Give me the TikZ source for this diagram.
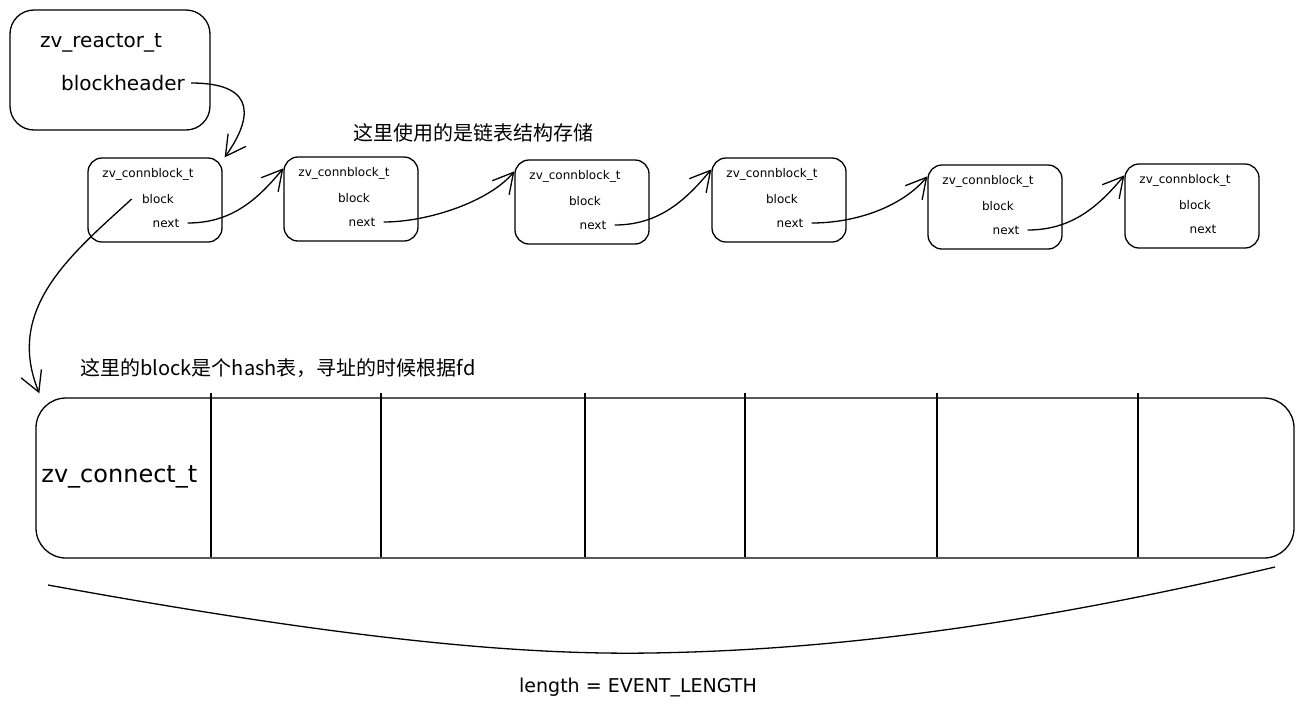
\documentclass[tikz,border=0pt]{standalone}
\usepackage{fontspec}
\setmainfont{DejaVu Sans}
\newfontfamily\cjk{Noto Sans CJK SC}
\usetikzlibrary{positioning, arrows.meta}

\tikzset{
  sketch/.style={draw, line width=0.65pt, rounded corners=#1},
  field/.style={inner sep=1pt, font=\fontsize{6}{7}\selectfont},
  title/.style={inner sep=1pt, font=\fontsize{10}{12}\selectfont},
  note/.style={inner sep=1pt, font=\cjk\fontsize{10}{12}\selectfont},
  link/.style={line width=0.65pt, -{Straight Barb[length=10pt, width=11pt]}}
}

\begin{document}
\begin{tikzpicture}[x=0.5pt, y=-0.5pt]
    \useasboundingbox (0,0) rectangle (1301,709);

    % reactor
    \node[sketch=12pt, minimum width=100pt, minimum height=60pt] (reactor) at (110,70) {};
    \node[title] (reactorname) at (101,43) {zv\_reactor\_t};
    \node[title] (blockheader) at (123,83) {blockheader};

    % connblock list
    \node[note] (listnote) at (473,133) {这里使用的是链表结构存储};
    \foreach \i/\x/\y in {1/155/200, 2/351/199, 3/582/202, 4/779/200, 5/995/207, 6/1192/206} {
      \node[sketch=7pt, minimum width=67pt, minimum height=42pt] (cb\i) at (\x,\y) {};
      \node[field] (cbname\i) at (\x-7,\y-26) {zv\_connblock\_t};
      \node[field] (block\i) at (\x+3,\y-1) {block};
      \node[field] (next\i) at (\x+11,\y+23) {next};
    }

    \draw[link] ([xshift=2pt]blockheader.east) .. controls +(70,0) and +(25,-35) .. ([xshift=1pt]cb1.north east);
    \foreach \i/\j in {1/2, 2/3, 3/4, 4/5, 5/6} {
      \draw[link] ([xshift=3pt]next\i.east) .. controls +(45,0) and +(-25,30) .. ([yshift=-6pt]cb\j.north west);
    }

    % hash table
    \node[note] (hashnote) at (278,368) {这里的block是个hash表，寻址的时候根据fd};
    \node[sketch=15pt, minimum width=629pt, minimum height=80pt] (connect) at (665,478) {};
    \node[inner sep=1pt, anchor=west, font=\fontsize{12}{14}\selectfont] (connectname) at (39,477) {zv\_connect\_t};
    \foreach \x in {211, 381, 585, 745, 937, 1138} {
      \draw[line width=0.65pt] (\x,393) -- (\x,557);
    }
    \draw[link] ([xshift=-4pt]block1.west) .. controls +(-60,55) and +(-35,-85) .. ([xshift=2pt, yshift=2pt]connect.north west);

    % length
    \coordinate (lenleft) at (48,585);
    \coordinate (lenright) at (1275,567);
    \draw[line width=0.65pt] (lenleft) .. controls (350,640) and (520,655) .. (650,653)
      .. controls (850,650) and (1050,620) .. (lenright);
    \node[inner sep=1pt, font=\fontsize{9.5}{11}\selectfont] (lengthlabel) at (638,688) {length = EVENT\_LENGTH};
\end{tikzpicture}
\end{document}
